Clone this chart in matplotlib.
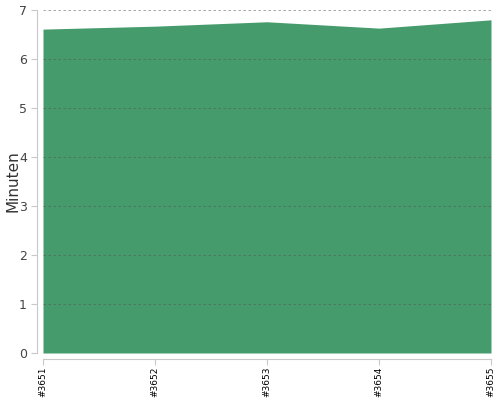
import matplotlib
matplotlib.use('Agg')
import matplotlib.pyplot as plt

builds = ['#3651', '#3652', '#3653', '#3654', '#3655']
minutes = [6.61, 6.67, 6.76, 6.63, 6.80]

fig = plt.figure(figsize=(5, 4), dpi=100)
ax = fig.add_axes([0.086, 0.1175, 0.896, 0.8575])

x = list(range(len(builds)))
ax.fill_between(x, 0, minutes, color='#459b6c', linewidth=0, zorder=1)

ax.set_xlim(0, len(builds) - 1)
ax.set_ylim(0, 7)
ax.set_yticks(range(0, 8))
ax.set_xticks(x)
ax.set_xticklabels(builds)

ax.grid(axis='y', linestyle=(0, (3, 3)), color='#555555', linewidth=0.6, alpha=0.6, zorder=2)
ax.set_axisbelow(False)

for s in ['top', 'right']:
    ax.spines[s].set_visible(False)
for s in ['left', 'bottom']:
    ax.spines[s].set_color('#c8c8c8')
    ax.spines[s].set_position(('outward', 4))
ax.tick_params(axis='y', length=4, color='#c8c8c8', labelsize=9, labelcolor='#444444')
ax.tick_params(axis='x', length=4, color='#c8c8c8', labelsize=6.5, labelcolor='black',
               labelrotation=90, pad=2)

ax.set_ylabel('Minuten', fontsize=11, color='#333333')
ax.yaxis.set_label_coords(-0.05, 0.5)

fig.savefig('out.png', dpi=100)
